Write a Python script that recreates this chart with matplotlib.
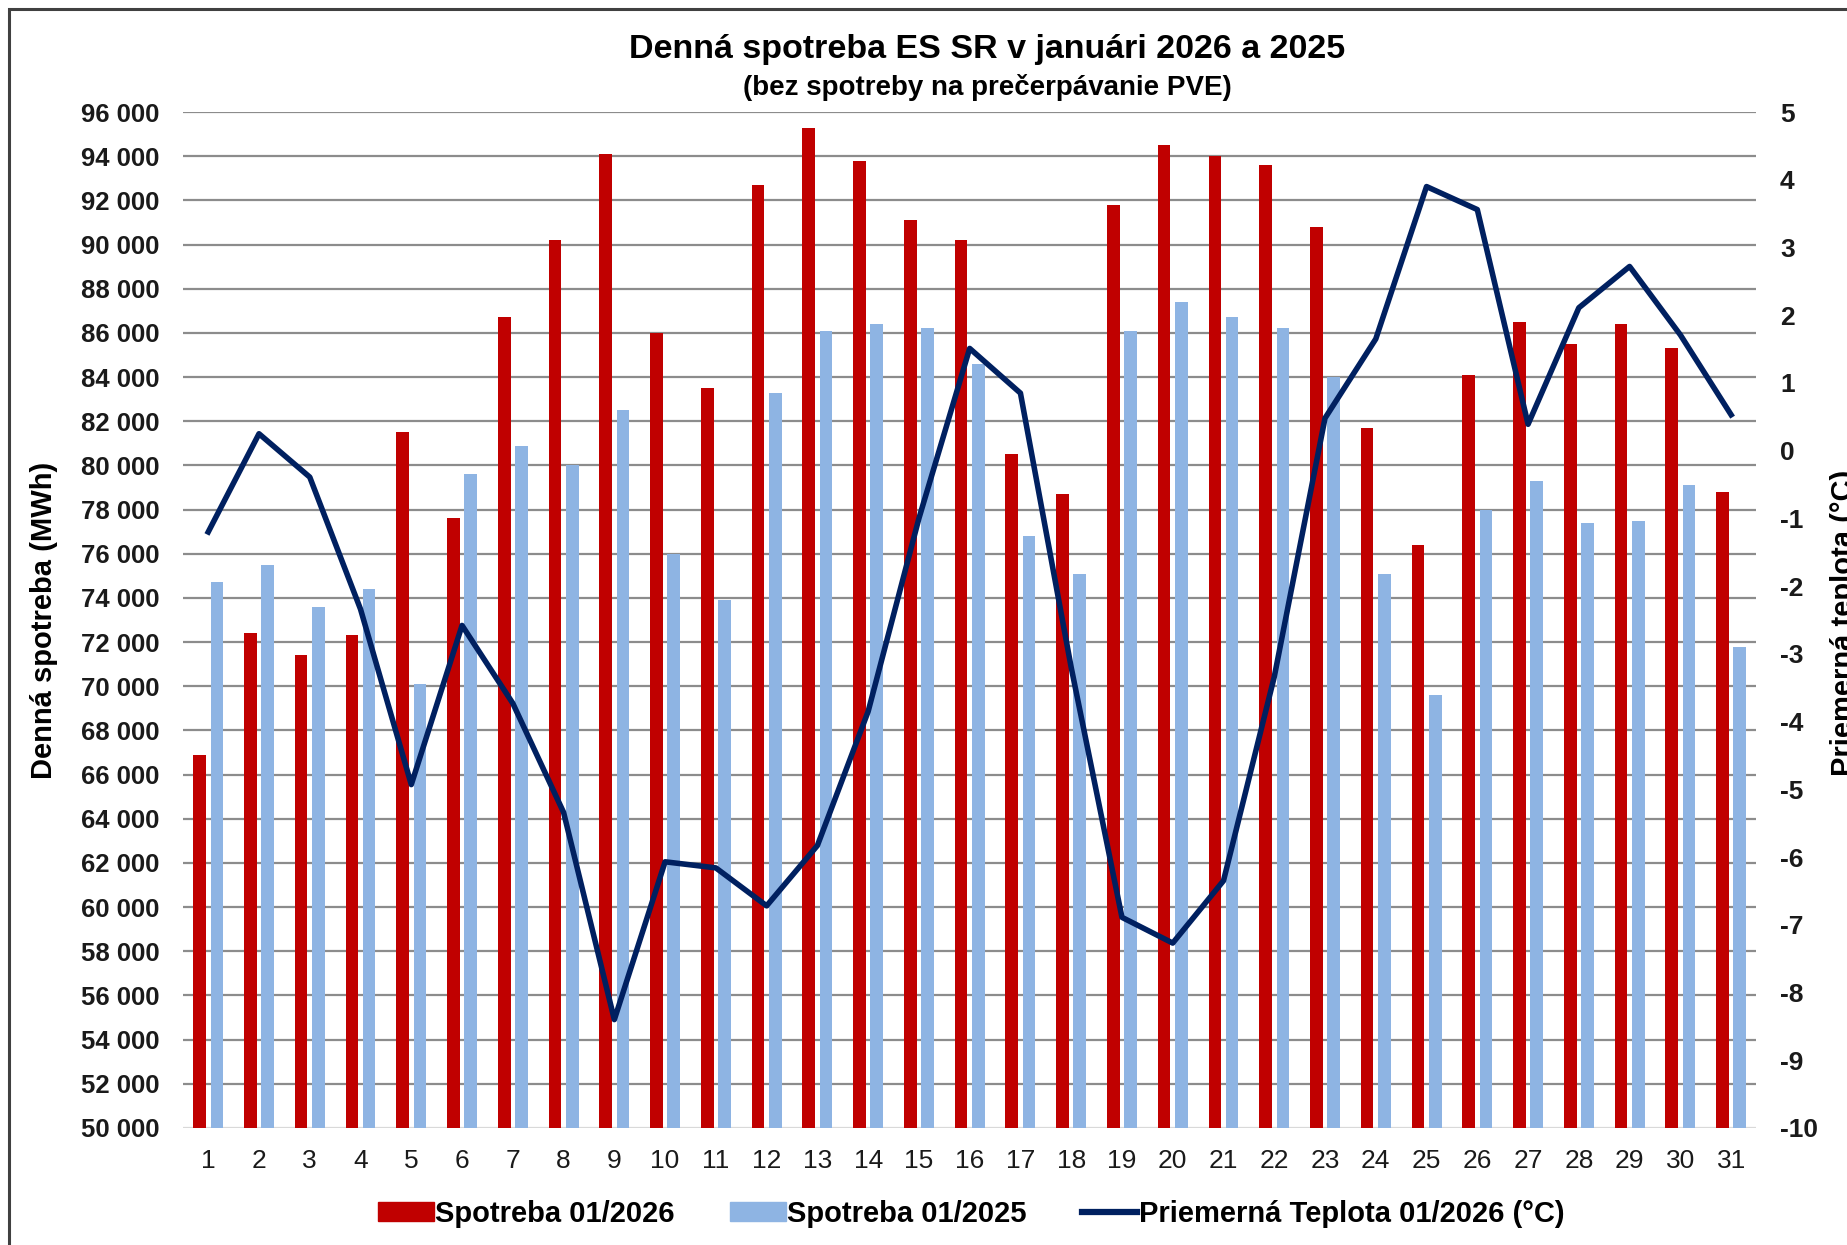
import matplotlib
matplotlib.use("Agg")
import matplotlib.pyplot as plt
import numpy as np
from matplotlib.patches import Rectangle
from matplotlib.lines import Line2D

plt.rcParams['font.family'] = ['Liberation Sans', 'DejaVu Sans']

days = list(range(1, 32))
spotreba_2026 = [66900, 72400, 71400, 72300, 81500, 77600, 86700, 90200, 94100, 86000,
                 83500, 92700, 95300, 93800, 91100, 90200, 80500, 78700, 91800, 94500,
                 94000, 93600, 90800, 81700, 76400, 84100, 86500, 85500, 86400, 85300, 78800]
spotreba_2025 = [74700, 75500, 73600, 74400, 70100, 79600, 80900, 80000, 82500, 76000,
                 73900, 83300, 86100, 86400, 86200, 84600, 76800, 75100, 86100, 87400,
                 86700, 86200, 84000, 75100, 69600, 78000, 79300, 77400, 77500, 79100, 71800]
teplota_2026 = [-1.2, 0.25, -0.39, -2.34, -4.93, -2.58, -3.73, -5.34, -8.4, -6.07,
                -6.16, -6.72, -5.83, -3.85, -1.0, 1.51, 0.85, -3.2, -6.89, -7.27,
                -6.35, -3.34, 0.48, 1.65, 3.9, 3.56, 0.39, 2.11, 2.72, 1.71, 0.53]
left_ticks = list(range(50000, 96001, 2000))
right_ticks = list(range(-10, 6))

title = "Denná spotreba ES SR v januári 2026 a 2025"
subtitle = "(bez spotreby na prečerpávanie PVE)"
labels = ["Spotreba 01/2026", "Spotreba 01/2025", "Priemerná Teplota 01/2026 (°C)"]

RED = "#C00000"
BLUE = "#8EB4E3"
NAVY = "#002060"

fig = plt.figure(figsize=(18.47, 12.45), dpi=100)
ax = fig.add_axes([0.099, 0.094, 0.852, 0.816])
x = np.array(days)
ax.bar(x - 0.17, [v - 50000 for v in spotreba_2026], bottom=50000, width=0.25, color=RED, zorder=3)
ax.bar(x + 0.17, [v - 50000 for v in spotreba_2025], bottom=50000, width=0.25, color=BLUE, zorder=3)
ax.set_xlim(0.5, 31.5)
ax.set_ylim(50000, 96000)
ax.set_yticks(left_ticks)
ax.set_yticklabels([f"{t:,}".replace(",", " ") for t in left_ticks], fontsize=18.5, fontweight='bold', color='#1a1a1a')
ax.set_xticks(days)
ax.set_xticklabels([str(d) for d in days], fontsize=19, color='#1a1a1a')
ax.tick_params(axis='x', length=0, pad=15)
ax.tick_params(axis='y', length=0, pad=17)
for t in left_ticks[1:]:
    ax.axhline(t, color='#8c8c8c', lw=1.6, zorder=1)
for s in ax.spines.values():
    s.set_visible(False)
ax.axhline(50000, color='#d9d9d9', lw=1.6, zorder=1)
ax.set_ylabel("Denná spotreba (MWh)", fontsize=21, fontweight='bold', labelpad=16)

ax2 = ax.twinx()
ax2.plot(x, teplota_2026, color=NAVY, lw=4, zorder=5)
ax2.set_ylim(-10, 5)
ax2.set_yticks(right_ticks)
ax2.set_yticklabels([str(t) for t in right_ticks], fontsize=19, fontweight='bold', color='#1a1a1a')
ax2.tick_params(axis='y', length=0, pad=17)
for s in ax2.spines.values():
    s.set_visible(False)

fig.text(0.5345, 0.960, title, ha='center', va='center', fontsize=24.5, fontweight='bold')
fig.text(0.5345, 0.930, subtitle, ha='center', va='center', fontsize=20, fontweight='bold')
fig.text(0.991, 0.50, "Priemerná teplota (°C)", rotation=90, ha='left', va='center',
         fontsize=21, fontweight='bold')

handles = [Rectangle((0, 0), 1, 1, color=RED), Rectangle((0, 0), 1, 1, color=BLUE),
           Line2D([0], [0], color=NAVY, lw=4.5)]
leg = fig.legend(handles, labels, loc='center', bbox_to_anchor=(0.526, 0.025), ncol=3,
                 frameon=False, prop={'size': 21, 'weight': 'bold'}, handlelength=1.9,
                 handleheight=0.6, handletextpad=0.05, columnspacing=1.9)

fig.add_artist(Rectangle((9 / 1847, -0.05), 1.2, 1.05 - 9 / 1245, transform=fig.transFigure,
                         fill=False, edgecolor='#404040', lw=2.2))

fig.savefig("out.png", dpi=100)
